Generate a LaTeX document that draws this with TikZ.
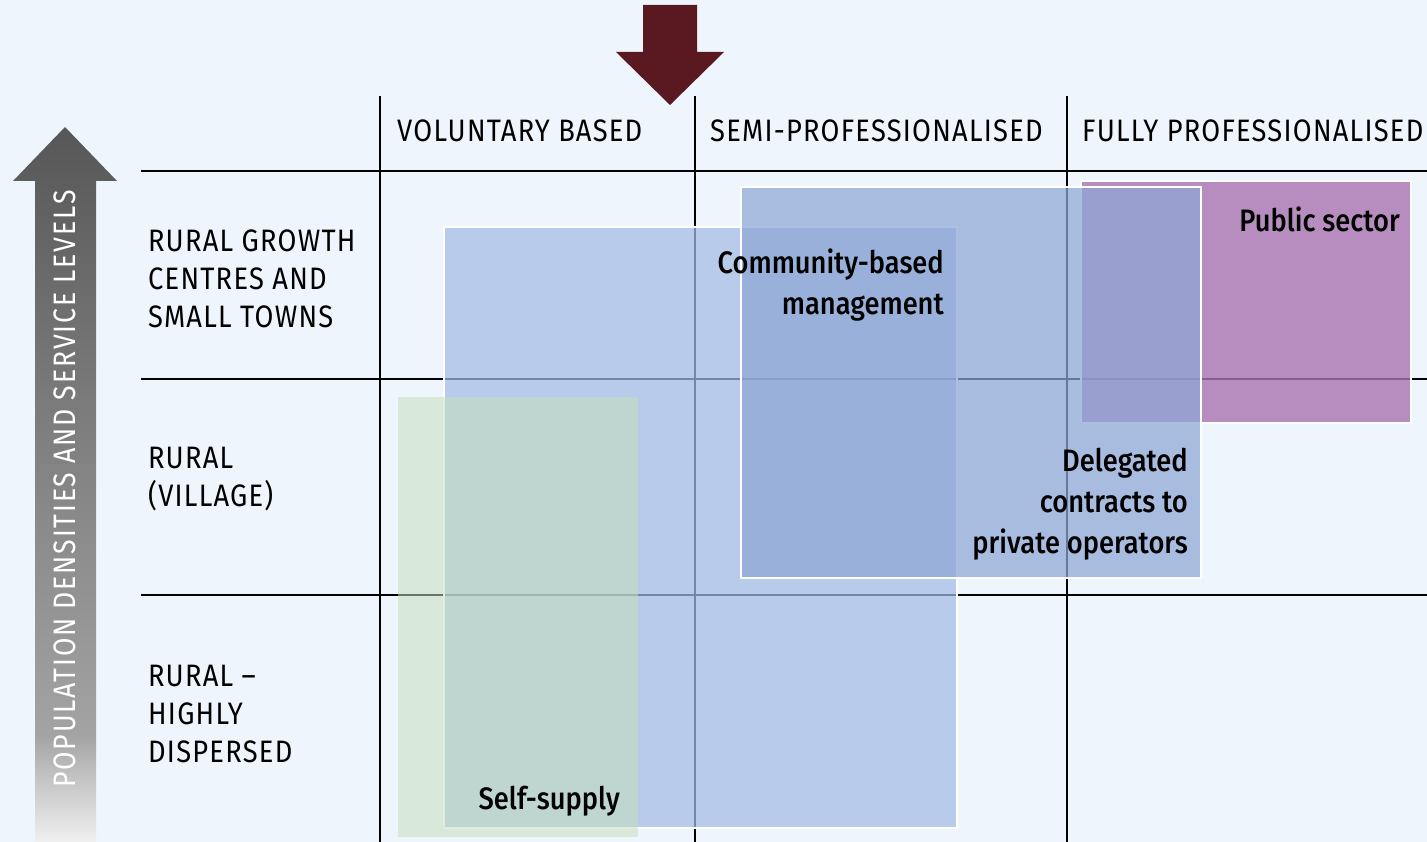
\documentclass[tikz,border=0pt]{standalone}
\usepackage{fontspec}
\setmainfont{Fira Sans}[FakeStretch=0.86]
\newfontfamily\capsfont{Fira Sans}[FakeStretch=0.88,LetterSpace=4]
\newfontfamily\boxfont{Fira Sans}[FakeStretch=0.88,UprightFont={* Medium}]
\newfontfamily\arrowfont{Fira Sans}[FakeStretch=0.86,LetterSpace=6]
\usepackage{xcolor}
\definecolor{bgcolor}{HTML}{EEF5FC}
\definecolor{arrowred}{HTML}{5A1820}
\definecolor{commcolor}{HTML}{A4BCE4}
\definecolor{delegcolor}{HTML}{8EA7D5}
\definecolor{publiccolor}{HTML}{AA73B1}
\definecolor{selfcolor}{HTML}{C6DEBA}
\pgfdeclareverticalshading{popshade}{100bp}{rgb(0bp)=(0.94,0.94,0.94); rgb(25bp)=(0.94,0.94,0.94); rgb(29.4bp)=(0.77,0.77,0.77); rgb(32.5bp)=(0.64,0.64,0.64); rgb(49bp)=(0.53,0.53,0.53); rgb(75bp)=(0.34,0.34,0.34); rgb(100bp)=(0.34,0.34,0.34)}

\begin{document}
\begin{tikzpicture}[x=1pt,y=-1pt]

		\tikzset{capslabel/.style = {font=\capsfont\fontsize{31}{38}\selectfont, inner sep=0pt}}
		\tikzset{rowlabel/.style = {capslabel, anchor=west, align=left}}
		\tikzset{boxlabel/.style = {font=\boxfont\fontsize{31}{41}\selectfont, inner sep=0pt, anchor=east, align=right}}
		\tikzset{area/.style = {draw=white, line width=2.5pt}}
		\tikzset{gridline/.style = {line width=1.3pt, black}}
		% background
		\fill[bgcolor] (0,0) rectangle (1427,842);
		\useasboundingbox (0,0) rectangle (1427,842);
		
		% arrows
		\shade[shading=popshade] (35,842) -- (35,181) -- (13,181) -- (65,127) -- (117,181) -- (96,181) -- (96,842) -- cycle;
		\fill[arrowred] (643,5) -- (697,5) -- (697,52) -- (724,52) -- (670,105) -- (616,52) -- (643,52) -- cycle;
		\node[font=\arrowfont\fontsize{31}{38}\selectfont, text=white, rotate=90, inner sep=0pt] (poplabel) at (65,489) {POPULATION DENSITIES AND SERVICE LEVELS};
		
		% grid
		\draw[gridline] (380,96) -- (380,842);
		\draw[gridline] (695,96) -- (695,842);
		\draw[gridline] (1067,96) -- (1067,842);
		\draw[gridline] (141,171) -- (1427,171);
		\draw[gridline] (141,379) -- (1427,379);
		\draw[gridline] (141,595) -- (1427,595);
		
		% areas
		\path[area, fill=commcolor, fill opacity=0.72] (444,227) rectangle (957,828);
		\path[area, fill=publiccolor, fill opacity=0.8] (1081,181) rectangle (1411,423);
		\path[area, fill=delegcolor, fill opacity=0.72] (741,187) rectangle (1201,578);
		\path[fill=selfcolor, fill opacity=0.53] (398,397) rectangle (638,837);
		
		% column heads
		\node[capslabel, anchor=west] (voluntary) at (397,131) {VOLUNTARY BASED};
		\node[capslabel, anchor=west] (semi) at (710,131) {SEMI-PROFESSIONALISED};
		\node[capslabel, anchor=west] (fully) at (1082,131) {FULLY PROFESSIONALISED};
		% row heads
		\node[rowlabel] (towns) at (148,279) {RURAL GROWTH\\CENTRES AND\\SMALL TOWNS};
		\node[rowlabel] (village) at (148,479) {RURAL\\(VILLAGE)};
		\node[rowlabel] (dispersed) at (148,714) {RURAL –\\HIGHLY\\DISPERSED};
		% area labels
		\node[boxlabel] (community) at (944,285) {Community-based\\management};
		\node[boxlabel] (public) at (1400,219) {Public sector};
		\node[boxlabel] (delegated) at (1188,504) {Delegated\\contracts to\\private operators};
		\node[boxlabel] (selfsupply) at (620,801) {Self-supply};

\end{tikzpicture}
\end{document}
